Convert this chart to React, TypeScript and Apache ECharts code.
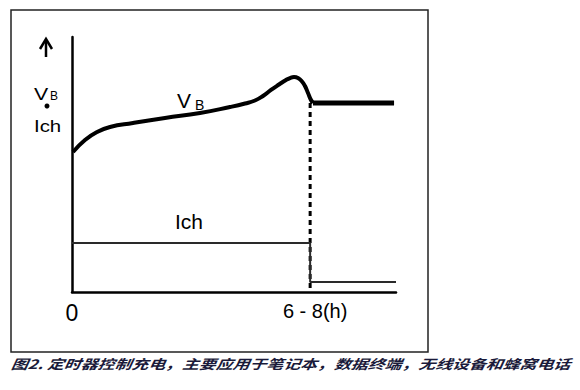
import React, { useEffect, useRef } from "react";
import * as echarts from "echarts";

// VB charging voltage curve (abstract time units 0..100, abstract level 0..100)
const vbCurveX = [0.31, 4.01, 7.72, 11.73, 18.83, 28.7, 39.51, 48.77, 53.4, 56.48, 58.95, 61.42, 63.89, 66.05, 67.28, 68.52, 69.75, 70.99, 71.91, 72.84, 73.77, 74.38];
const vbCurveY = [54.9, 59.61, 62.75, 64.71, 66.27, 68.24, 70.2, 72.55, 73.92, 75.1, 76.86, 79.22, 81.37, 83.14, 83.92, 84.31, 83.92, 82.55, 80.78, 78.04, 75.29, 74.12];
// VB after timer ends
const vbFlatX = [74.38, 99.4];
const vbFlatY = [74.12, 74.12];
// timer end marker (dashed)
const timerX = [73.5, 73.5];
const timerY = [74.1, 0.8];
// charge current Ich
const ichX = [0, 73.5, 73.5, 100];
const ichY = [19.2, 19.2, 3.9, 3.9];
// x tick labels
const tickValues = [0, 73.5];
const tickLabels = ["0", "6 - 8(h)"];

const caption = "图2. 定时器控制充电，主要应用于笔记本，数据终端，无线设备和蜂窝电话";

const zip = (xs: number[], ys: number[]) => xs.map((x, i) => [x, ys[i]]);

export default function App() {
  const ref = useRef<HTMLDivElement>(null);
  useEffect(() => {
    if (!ref.current) return;
    const chart = echarts.init(ref.current, null, { renderer: "svg" });
    const font = "'Liberation Sans', Arial, sans-serif";
    chart.setOption({
      animation: false,
      backgroundColor: "#ffffff",
      grid: { left: 72, right: 184, top: 37, bottom: 98 },
      xAxis: {
        type: "value",
        min: 0,
        max: 100,
        splitLine: { show: false },
        axisTick: { show: false },
        axisLine: { show: true, onZero: false, lineStyle: { color: "#000", width: 2.5 } },
        axisLabel: {
          customValues: tickValues,
          margin: 9,
          formatter: (v: number) => {
            const i = tickValues.indexOf(v);
            if (i < 0) return "";
            return i === 0 ? "{a|" + tickLabels[0] + "}" : "{b|" + tickLabels[1] + "}";
          },
          rich: {
            a: { fontFamily: font, fontSize: 23, color: "#000" },
            b: { fontFamily: font, fontSize: 20, color: "#000", padding: [0, 0, 0, 10] },
          },
        },
      },
      yAxis: {
        type: "value",
        min: 0,
        max: 100,
        splitLine: { show: false },
        axisTick: { show: false },
        axisLabel: { show: false },
        axisLine: { show: true, onZero: false, lineStyle: { color: "#000", width: 2.5 } },
      },
      series: [
        {
          type: "line",
          data: zip(vbCurveX, vbCurveY),
          smooth: 0.5,
          symbol: "none",
          lineStyle: { color: "#000", width: 4 },
        },
        {
          type: "line",
          data: zip(vbFlatX, vbFlatY),
          symbol: "none",
          lineStyle: { color: "#000", width: 5 },
        },
        {
          type: "line",
          data: zip(timerX, timerY),
          symbol: "none",
          lineStyle: { color: "#000", width: 3, type: [5, 4] },
        },
        {
          type: "line",
          data: zip(ichX, ichY),
          symbol: "none",
          lineStyle: { color: "#2a2a2a", width: 2 },
        },
      ],
      graphic: [
        {
          type: "rect",
          shape: { x: 11, y: 10, width: 417, height: 342 },
          style: { fill: "none", stroke: "#222", lineWidth: 1.5 },
          silent: true,
        },
        {
          type: "line",
          shape: { x1: 46, y1: 40, x2: 46, y2: 57 },
          style: { stroke: "#000", lineWidth: 2.5 },
        },
        {
          type: "polyline",
          shape: { points: [[40, 49], [46, 39], [52, 49]] },
          style: { stroke: "#000", lineWidth: 2.5, fill: "none" },
        },
        {
          type: "text",
          x: 34,
          y: 94,
          scaleX: 1.25,
          style: { text: "V", fontFamily: font, fontSize: 17, fill: "#000", verticalAlign: "middle", align: "left" },
        },
        {
          type: "text",
          x: 50,
          y: 96,
          style: { text: "B", fontFamily: font, fontSize: 12, fill: "#000", verticalAlign: "middle", align: "left" },
        },
        {
          type: "circle",
          shape: { cx: 47, cy: 106, r: 2.5 },
          style: { fill: "#000" },
        },
        {
          type: "text",
          x: 34,
          y: 126,
          scaleX: 1.2,
          style: { text: "Ich", fontFamily: font, fontSize: 17, fill: "#000", verticalAlign: "middle", align: "left" },
        },
        {
          type: "text",
          x: 177,
          y: 100,
          style: { text: "V", fontFamily: font, fontSize: 21, fill: "#000", verticalAlign: "middle", align: "left" },
        },
        {
          type: "text",
          x: 195,
          y: 105,
          style: { text: "B", fontFamily: font, fontSize: 14, fill: "#000", verticalAlign: "middle", align: "left" },
        },
        {
          type: "text",
          x: 175,
          y: 221,
          style: { text: "Ich", fontFamily: font, fontSize: 21, fill: "#000", verticalAlign: "middle", align: "left" },
        },
        {
          type: "text",
          x: 13,
          y: 364,
          scaleX: 1.3,
          style: {
            text: caption,
            fontFamily: "'Noto Sans CJK SC', sans-serif",
            fontSize: 13,
            fontWeight: "bold",
            fill: "#1a1a3a",
            verticalAlign: "middle",
            align: "left",
          },
        },
      ],
    });
    // slant the caption (italic look) by skewing its zrender element
    try {
      const zr: any = chart.getZr();
      const walk = (el: any) => {
        if (el && el.style && el.style.text === caption) {
          el.attr("skewX", -0.2);
        }
        if (el && typeof el.childrenRef === "function") {
          (el.childrenRef() || []).forEach(walk);
        }
      };
      zr.storage.getRoots().forEach(walk);
      zr.refreshImmediately();
    } catch (e) {
      // ignore
    }
    return () => chart.dispose();
  }, []);
  return (
    <div
      ref={ref}
      style={{ position: "absolute", left: 0, top: 0, width: 580, height: 390, background: "#fff" }}
    />
  );
}
